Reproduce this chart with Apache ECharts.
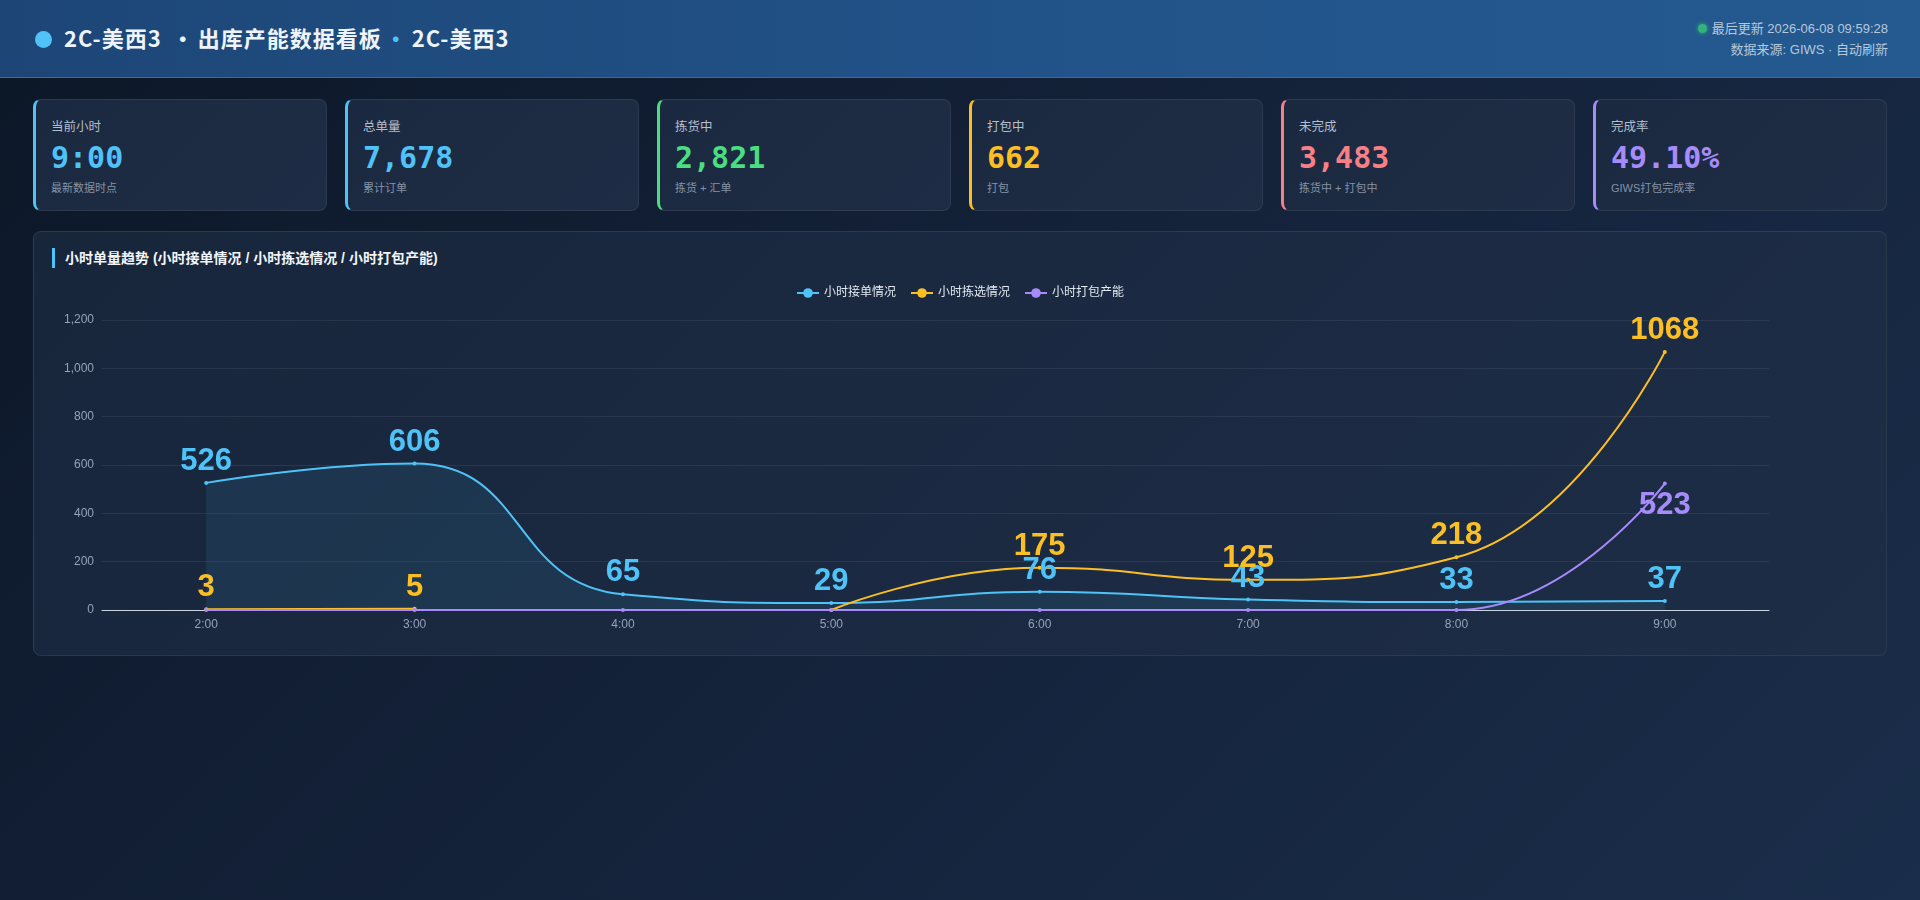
<!DOCTYPE html>
<html>
<head>
    <meta charset="utf-8">
    <title>2C-美西3 · 出库产能数据看板</title>
    <script src="https://cdn.jsdelivr.net/npm/echarts@6/dist/echarts.min.js"></script>
    <style>
        * { margin: 0; padding: 0; box-sizing: border-box; }
        body {
            width: 1920px; height: 900px; overflow: hidden;
            font-family: "Liberation Sans", "Noto Sans CJK SC", sans-serif;
            background: linear-gradient(135deg, #0c1727 0%, #14223a 50%, #1a2d4a 100%);
            color: #e2e8f0;
        }
        .header {
            height: 78px;
            background: linear-gradient(90deg, #1d4677 0%, #22548a 60%, #245a90 100%);
            border-bottom: 1px solid #3d6a98;
            position: relative;
        }
        .header .title {
            position: absolute; left: 35px; top: 21px;
            font-family: "Noto Sans CJK SC", sans-serif;
            font-size: 22px; font-weight: bold; color: #eef4fb; letter-spacing: 1px;
        }
        .header .title .dot {
            display: inline-block; width: 17px; height: 17px; border-radius: 50%;
            background: #4fc3f7; margin-right: 12px; vertical-align: -1px;
        }
        .header .title .mid { margin: 0 3px 0 10px; }
        .header .title .sep { color: #4fc3f7; margin: 0 4px 0 3px; }
        .header .meta {
            position: absolute; right: 32px; top: 18px; text-align: right;
            font-size: 13px; color: #b6c8dc; line-height: 21px;
        }
        .header .meta .live {
            display: inline-block; width: 9px; height: 9px; border-radius: 50%;
            background: #34b27b; margin-right: 5px; vertical-align: 0;
            box-shadow: 0 0 4px #34b27b;
        }
        .cards { position: absolute; left: 33px; top: 99px; width: 1854px; height: 112px; display: flex; gap: 18px; }
        .card {
            flex: 1; height: 112px; border-radius: 8px;
            background: linear-gradient(135deg, #1b2940, #1e2d45);
            border: 1px solid rgba(255,255,255,0.08);
            border-left: 3px solid #4fc3f7;
            padding: 16px 0 0 15px;
        }
        .card .label { font-size: 12.5px; color: #b3bfcf; height: 20px; }
        .card .value {
            font-family: "DejaVu Sans Mono", monospace; font-weight: bold;
            font-size: 30px; line-height: 38px; margin-top: 3px;
        }
        .card .sub { font-size: 11px; color: #8593a6; margin-top: 2px; }
        .panel {
            position: absolute; left: 33px; top: 231px; width: 1854px; height: 425px;
            border-radius: 8px; border: 1px solid rgba(255,255,255,0.08);
            background: linear-gradient(135deg, #18263c, #1d2d46);
        }
        .panel .ptitle {
            position: absolute; left: 18px; top: 16px; height: 20px;
            border-left: 3px solid #4fc3f7; padding-left: 10px;
            font-size: 14px; font-weight: bold; color: #f1f5f9; line-height: 20px;
        }
        #trend { position: absolute; left: 0; top: 40px; width: 1852px; height: 380px; }
    </style>
</head>
<body>
    <div class="header">
        <div class="title"><span class="dot"></span>2C-美西3<span class="mid">·</span>出库产能数据看板<span class="sep">·</span>2C-美西3</div>
        <div class="meta">
            <div><span class="live"></span>最后更新 2026-06-08 09:59:28</div>
            <div>数据来源: GIWS · 自动刷新</div>
        </div>
    </div>
    <div class="cards" id="cards"></div>
    <div class="panel">
        <div class="ptitle">小时单量趋势 (小时接单情况 / 小时拣选情况 / 小时打包产能)</div>
        <div id="trend"></div>
    </div>
    <script type="text/javascript">
        // 卡片
        var cardLabels = ['当前小时', '总单量', '拣货中', '打包中', '未完成', '完成率'];
        var cardValues = ['9:00', '7,678', '2,821', '662', '3,483', '49.10%'];
        var cardSubs = ['最新数据时点', '累计订单', '拣货 + 汇单', '打包', '拣货中 + 打包中', 'GIWS打包完成率'];
        var cardColors = ['#4fc3f7', '#4fc3f7', '#4ade80', '#fbbf24', '#f87f86', '#a78bfa'];

        // 图表数据
        var hours = ['2:00', '3:00', '4:00', '5:00', '6:00', '7:00', '8:00', '9:00'];
        var orderIn = [526, 606, 65, 29, 76, 43, 33, 37];
        var picked = [3, 5, null, 0, 175, 125, 218, 1068];
        var packed = [0, 0, 0, 0, 0, 0, 0, 523];
        var seriesNames = ['小时接单情况', '小时拣选情况', '小时打包产能'];

        var html = '';
        for (var i = 0; i < cardLabels.length; i++) {
            html += '<div class="card" style="border-left-color:' + cardColors[i] + '">' +
                '<div class="label">' + cardLabels[i] + '</div>' +
                '<div class="value" style="color:' + cardColors[i] + '">' + cardValues[i] + '</div>' +
                '<div class="sub">' + cardSubs[i] + '</div></div>';
        }
        document.getElementById('cards').innerHTML = html;

        function hideZero(p) {
            return p.value ? String(p.value) : '';
        }

        function lineSeries(name, data, color, labelPos) {
            return {
                name: name,
                type: 'line',
                data: data,
                smooth: true,
                symbol: 'circle',
                symbolSize: 4,
                itemStyle: { color: color },
                lineStyle: { color: color, width: 2 },
                label: {
                    show: true,
                    position: labelPos,
                    distance: 4,
                    color: color,
                    fontSize: 31,
                    fontWeight: 'bold',
                    fontFamily: 'Liberation Sans, sans-serif',
                    formatter: hideZero
                }
            };
        }

        var myChart = echarts.init(document.getElementById('trend'));
        var blue = lineSeries(seriesNames[0], orderIn, '#4fc3f7', 'top');
        blue.areaStyle = { color: 'rgba(79,195,247,0.13)' };
        var option = {
            backgroundColor: 'transparent',
            textStyle: { fontFamily: 'Liberation Sans, Noto Sans CJK SC, sans-serif' },
            legend: {
                data: seriesNames,
                top: 10,
                left: 'center',
                itemWidth: 22,
                itemHeight: 12,
                itemGap: 14,
                textStyle: { color: '#e2e8f0', fontSize: 12 }
            },
            grid: { left: 68, right: 117, top: 48, bottom: 42 },
            xAxis: {
                type: 'category',
                data: hours,
                boundaryGap: true,
                axisLine: { lineStyle: { color: '#cbd5e1' } },
                axisTick: { lineStyle: { color: '#cbd5e1' } },
                axisLabel: { color: '#94a3b8', fontSize: 12, margin: 9 }
            },
            yAxis: {
                type: 'value',
                min: 0,
                max: 1200,
                interval: 200,
                axisLine: { show: false },
                axisTick: { show: false },
                axisLabel: { color: '#94a3b8', fontSize: 12, margin: 8 },
                splitLine: { lineStyle: { color: 'rgba(255,255,255,0.07)' } }
            },
            series: [
                blue,
                lineSeries(seriesNames[1], picked, '#fbbf24', 'top'),
                lineSeries(seriesNames[2], packed, '#a78bfa', 'bottom')
            ]
        };
        myChart.setOption(option);
    </script>
</body>
</html>
